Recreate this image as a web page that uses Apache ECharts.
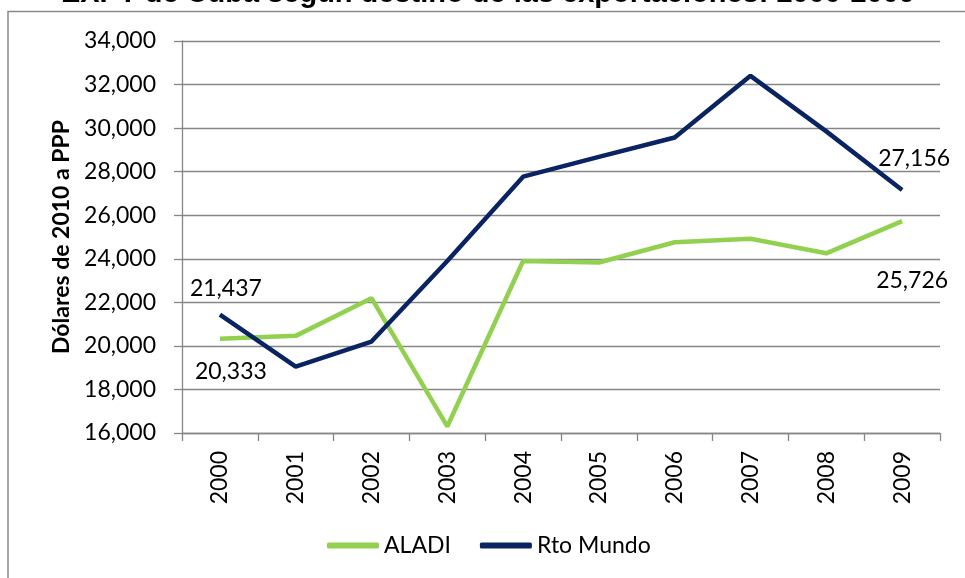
<!DOCTYPE html>
<html>
<head>
<meta charset="utf-8">
<script src="https://cdn.jsdelivr.net/npm/echarts@6/dist/echarts.min.js"></script>
<style>html,body{margin:0;padding:0;background:#fff}#c{width:965px;height:578px}</style>
</head>
<body>
<div id="c"></div>
<script>
const titleText = 'EXPT de Cuba según destino de las exportaciones: 2000-2009';
const yAxisName = 'Dólares de 2010 a PPP';
const years = ['2000','2001','2002','2003','2004','2005','2006','2007','2008','2009'];
const aladi = [20333, 20460, 22190, 16300, 23900, 23830, 24760, 24920, 24250, 25726];
const rtoMundo = [21437, 19050, 20200, 23900, 27770, 28680, 29570, 32400, 29850, 27156];
const seriesNames = ['ALADI', 'Rto Mundo'];
const yMin = 16000, yMax = 34000, yStep = 2000;

const FONT = 'Lato';
const fmt = v => Math.round(v).toLocaleString('en-US');

const aladiLabels = {
  0: {position: 'bottom', distance: 21, offset: [11, 0]},
  9: {position: 'bottom', distance: 48, offset: [10, 0]}
};
const rtoLabels = {
  0: {position: 'top', distance: 15, offset: [6, 0]},
  9: {position: 'top', distance: 20, offset: [12, 0]}
};
function build(values, labels) {
  return values.map((v, i) => {
    if (labels[i]) {
      return {value: v, label: Object.assign({show: true, formatter: p => fmt(p.value),
        color: '#000', fontFamily: FONT, fontSize: 23}, labels[i])};
    }
    return v;
  });
}

const chart = echarts.init(document.getElementById('c'), null, {renderer: 'canvas'});
chart.setOption({
  animation: false,
  backgroundColor: '#fff',
  graphic: [
    {type: 'rect', shape: {x: 8, y: 11.5, width: 1000, height: 700}, style: {fill: 'none', stroke: '#8a8a8a', lineWidth: 1.5}, z: 0},
    {type: 'text', x: 488, y: -6, style: {text: titleText, font: 'bold 29px "Liberation Sans"', fill: '#000', align: 'center', verticalAlign: 'middle'}, z: 10}
  ],
  grid: {left: 182, right: 25, top: 41, bottom: 145, containLabel: false},
  legend: {
    data: seriesNames,
    left: 322, top: 529,
    itemWidth: 52, itemHeight: 6, itemGap: 29,
    icon: 'roundRect',
    textStyle: {fontFamily: FONT, fontSize: 23, color: '#000'}
  },
  xAxis: {
    type: 'category', data: years, boundaryGap: true,
    axisLine: {lineStyle: {color: '#868686', width: 1.3}},
    axisTick: {show: true, length: 8, lineStyle: {color: '#868686', width: 1.3}},
    axisLabel: {rotate: 90, margin: 18, fontFamily: FONT, fontSize: 23, color: '#000'},
    splitLine: {show: false}
  },
  yAxis: {
    type: 'value', min: yMin, max: yMax, interval: yStep,
    name: yAxisName, nameLocation: 'middle', nameGap: 108, nameRotate: 90,
    nameTextStyle: {fontFamily: FONT, fontWeight: 'bold', fontSize: 23, color: '#000'},
    axisLine: {show: true, lineStyle: {color: '#868686', width: 1.3}},
    axisTick: {show: true, length: 8, lineStyle: {color: '#868686', width: 1.3}},
    axisLabel: {margin: 26, fontFamily: FONT, fontSize: 23, color: '#000', formatter: v => fmt(v)},
    splitLine: {show: true, lineStyle: {color: '#868686', width: 1.3}}
  },
  series: [
    {name: seriesNames[0], type: 'line', data: build(aladi, aladiLabels), symbol: 'circle', symbolSize: 0, showSymbol: true,
     color: '#92D050', lineStyle: {color: '#92D050', width: 4.5}, z: 3},
    {name: seriesNames[1], type: 'line', data: build(rtoMundo, rtoLabels), symbol: 'circle', symbolSize: 0, showSymbol: true,
     color: '#0A2362', lineStyle: {color: '#0A2362', width: 4.5}, z: 4}
  ]
});
</script>
</body>
</html>
